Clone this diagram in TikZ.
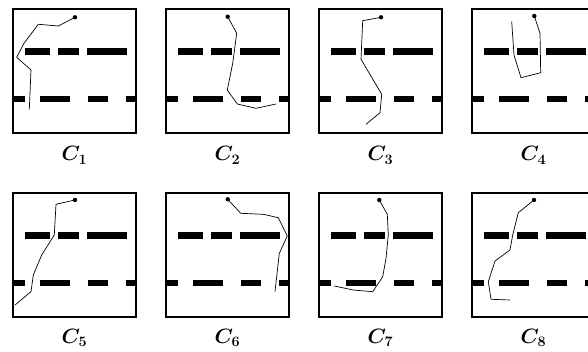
\documentclass[tikz,border=0pt]{standalone}
\begin{document}
\begin{tikzpicture}[x=1pt,y=-1pt,
  frame/.style={line width=1.6pt},
  bar/.style={line width=6.8pt},
  track/.style={line width=0.7pt,line join=round},
  lab/.style={anchor=base,inner sep=0pt,font=\fontsize{21}{24}\selectfont\boldmath}]
\useasboundingbox (0,0) rectangle (588,352);
\newcommand\drawpanel[2]{%
  \begin{scope}[shift={(#1,#2)}]
    \draw[frame] (0,0) rectangle (123,124);
    \foreach \a/\b in {12/37,45/66,74/114} \draw[bar] (\a,42.5) -- (\b,42.5);
    \foreach \a/\b in {0/12,27/57,75/95,113/123} \draw[bar] (\a,90) -- (\b,90);
  \end{scope}}
\drawpanel{13}{9}
\drawpanel{166}{9}
\drawpanel{319}{9}
\drawpanel{472}{9}
\drawpanel{13}{193}
\drawpanel{166}{193}
\drawpanel{319}{193}
\drawpanel{472}{193}
% trajectories
\draw[track] (75,17.3) -- (58.3,26) -- (38.3,24.3) -- (24,43.3) -- (16.7,57.3) -- (31,70) -- (29.3,109.3);
\fill (75,17.3) circle (2.2);
\draw[track] (227.7,16.7) -- (236.7,33.3) -- (232.7,63.3) -- (227.3,90) -- (237.3,104) -- (256,108.3) -- (276,104);
\fill (227.7,16.7) circle (2.2);
\draw[track] (381,17.3) -- (362.7,20.7) -- (361,59.3) -- (381.7,94.3) -- (380,112.7) -- (366,124.3);
\fill (381,17.3) circle (2.2);
\draw[track] (534.3,16) -- (540,33.3) -- (540.7,72.7) -- (521,77.7) -- (514,55) -- (511.7,21.7);
\fill (534.3,16) circle (2.2);
\draw[track] (75,200) -- (56,204.3) -- (54.3,235) -- (41.7,255) -- (33.3,275) -- (31,291.7) -- (15,305);
\fill (75,200) circle (2.2);
\draw[track] (227.7,199.3) -- (240.7,213.3) -- (263.3,214.3) -- (278.3,217.7) -- (287.3,236) -- (279.3,253.3) -- (275,291.7);
\fill (227.7,199.3) circle (2.2);
\draw[track] (379.3,200) -- (387.3,214.3) -- (388.3,235) -- (386,258.3) -- (382.7,276.7) -- (372.7,291.7) -- (353.3,290) -- (334.3,286);
\fill (379.3,200) circle (2.2);
\draw[track] (534,200) -- (518.3,212.7) -- (512.7,235) -- (510,250) -- (495,261) -- (488.3,281.7) -- (491,299.3) -- (510,300);
\fill (534,200) circle (2.2);
% labels
\node[lab] (l1) at (74.5,161) {$C_1$};
\node[lab] (l2) at (227.5,161) {$C_2$};
\node[lab] (l3) at (380.5,161) {$C_3$};
\node[lab] (l4) at (533.5,161) {$C_4$};
\node[lab] (l5) at (74.5,343) {$C_5$};
\node[lab] (l6) at (227.5,343) {$C_6$};
\node[lab] (l7) at (380.5,343) {$C_7$};
\node[lab] (l8) at (533.5,343) {$C_8$};
\end{tikzpicture}
\end{document}
